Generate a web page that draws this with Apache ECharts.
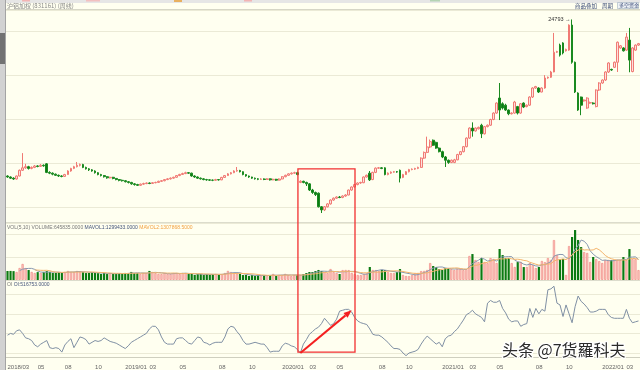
<!DOCTYPE html>
<html><head><meta charset="utf-8">
<script src="https://cdn.jsdelivr.net/npm/echarts@6/dist/echarts.min.js"></script>
<style>html,body{margin:0;padding:0;background:#fffff0;}#c{width:640px;height:370px;}</style>
</head><body><div id="c"></div>
<script>
// ---- data (weekly bars, 沪铝加权) ----
const opens = [
13850,13780,13700,13640,13850,14250,14420,14500,14380,14450,
14550,14520,14600,14700,14100,14050,13980,13900,13850,13820,
13950,14200,14380,14500,14600,14650,14450,14350,14280,14200,
14080,13950,13880,13800,13720,13760,13680,13600,13550,13520,
13450,13400,13300,13250,13200,13280,13320,13360,13330,13380,
13400,13480,13520,13600,13650,13700,13760,13880,13960,14020,
14080,14050,13850,13780,13700,13650,13600,13580,13560,13550,
13600,13580,13750,13880,14000,14080,14200,14230,14150,13950,
13850,13780,13700,13650,13620,13640,13610,13650,13580,13620,
13560,13640,13800,13900,14000,14050,14080,13400,13480,13400,
13300,12870,12700,12650,11700,11480,11700,11900,12170,12300,
12380,12350,12450,12520,12870,13080,13250,13360,13380,13780,
14050,13600,14100,14400,14420,14420,13950,14050,14120,14150,
14250,13750,13950,14150,14300,14330,14380,14450,15100,15500,
15880,16350,16200,15800,15550,15180,14950,14800,14800,14980,
15350,15550,15900,16500,17200,17000,17150,17400,16800,17300,
17400,17800,18250,19300,18900,18800,18460,18200,18250,18700,
18250,18950,18700,18800,19370,20000,20000,19720,20000,20700,
20750,21120,22500,23000,23150,22600,22650,24400,21800,19650,
19370,19100,18600,18950,18950,18700,19860,20350,20560,21120,
21300,21450,21800,22800,22800,22650,23350,21150,22650,23000];
const closes = [
13780,13700,13640,13850,14250,14420,14500,14380,14450,14550,
14520,14600,14560,14100,14050,13980,13900,13850,13820,13950,
14200,14380,14500,14600,14650,14450,14350,14280,14200,14080,
13950,13880,13800,13720,13760,13680,13600,13550,13520,13450,
13400,13300,13250,13200,13280,13320,13360,13330,13380,13400,
13480,13520,13600,13650,13700,13760,13880,13960,14020,14080,
14050,13850,13780,13700,13650,13600,13580,13560,13550,13600,
13580,13750,13880,14000,14080,14200,14230,14150,13950,13850,
13780,13700,13650,13620,13640,13610,13650,13580,13620,13560,
13640,13800,13900,14000,14050,14080,13950,13480,13400,13300,
12870,12700,12550,11700,11480,11700,11900,12170,12300,12380,
12350,12450,12520,12870,13080,13250,13360,13400,13780,13900,
13580,14100,14400,14420,14380,13950,14050,14120,14150,14130,
13700,13950,14150,14300,14330,14380,14450,15100,15500,15880,
16250,16000,15800,15550,15180,14950,14800,14950,14980,15350,
15550,15900,16500,17200,17000,17200,17250,16800,17300,17400,
17800,18250,18950,18460,18600,18460,18200,18250,19020,18250,
18900,18670,18800,19370,20000,20100,19720,20000,20700,20750,
21120,22500,22550,22300,22450,22700,24400,21800,19720,18460,
18800,19160,19300,18980,18900,19860,20350,20560,21120,21750,
21260,21800,23200,22950,22600,23560,21950,22800,23000,23100];
const lows = [
13720,13650,13580,13600,13820,14200,14350,14300,14320,14400,
14460,14480,14500,14050,13980,13900,13850,13780,13760,13800,
13920,14150,14330,14450,14520,14400,14300,14200,14150,14020,
13900,13820,13740,13660,13680,13620,13550,13480,13460,13400,
13330,13240,13180,13150,13160,13230,13280,13280,13300,13340,
13370,13440,13480,13560,13600,13660,13730,13840,13920,13980,
14000,13800,13720,13650,13600,13550,13520,13500,13490,13520,
13530,13560,13720,13850,13960,14050,14150,14100,13900,13800,
13720,13650,13600,13560,13580,13560,13580,13530,13550,13510,
13530,13620,13760,13860,13950,14000,13900,13350,13340,13150,
12800,12600,12450,11650,11264,11400,11650,11850,12120,12250,
12300,12300,12400,12500,12820,13050,13200,13300,13350,13740,
13500,13560,14050,14350,14330,13900,13900,14000,14080,14080,
13400,13700,13920,14100,14250,14280,14330,14420,15050,15450,
15800,15950,15750,15500,15100,14480,14700,14750,14750,14950,
15300,15500,15850,16450,16600,16950,17100,16500,16750,17250,
17350,17750,18200,17760,18500,18400,18100,18150,18200,18150,
18200,18600,18650,18750,19300,19950,19650,19700,19950,20650,
20700,21100,22450,22200,22350,22550,22600,21700,19650,18400,
18100,19050,18550,18900,18850,18650,19800,20300,20500,21050,
21200,21400,21120,22750,22550,22600,21100,21100,22600,22950];
const highs = [
13900,13820,13760,13880,14300,15450,14700,14560,14520,14620,
14600,14680,14660,14750,14180,14100,14020,13950,13900,14000,
14250,14420,14560,14830,14720,14700,14500,14400,14330,14250,
14120,14000,13920,13840,13800,13790,13700,13640,13600,13560,
13500,13440,13350,13300,13320,13380,13400,13400,13420,13450,
13520,13570,13640,13700,13750,13800,13920,14000,14080,14150,
14120,14080,13900,13820,13740,13700,13650,13620,13600,13650,
13640,13790,13920,14050,14130,14250,14480,14280,14180,13980,
13880,13800,13740,13700,13690,13680,13700,13680,13660,13650,
13680,13840,13940,14040,14100,14150,14150,13550,13520,13450,
13350,12950,12760,12700,11750,11750,11950,12220,12350,12430,
12450,12500,12580,12900,13120,13300,13400,13450,13820,13950,
14200,14150,14450,14480,14470,14460,14100,14170,14200,14200,
14300,14000,14200,14350,14380,14420,14500,15150,15560,16600,
16400,16400,16250,15850,15620,15250,15000,15000,15050,15400,
15600,15950,16550,17250,17600,17250,17300,17500,17350,17450,
17850,18300,19000,20350,19000,18900,18500,18300,19100,18750,
18950,19000,18850,19420,20050,20150,20050,20050,20900,20800,
21200,23850,22600,23100,23200,22750,24450,24793,21850,19700,
19400,19200,19350,19050,19000,19900,20400,20600,21170,21800,
21350,21850,23250,23000,22850,23850,24200,22850,23050,23150];
const volumes = [
588000,592000,579000,524000,781000,1046000,779000,650000,528000,459000,
515000,462000,530000,584000,519000,455000,463000,521000,457000,526000,
589000,518000,523000,590000,527000,516000,452000,461000,520000,458000,
449000,393000,455000,388000,451000,395000,389000,457000,392000,460000,
453000,525000,458000,451000,396000,456000,462000,591000,522000,455000,
394000,387000,454000,392000,398000,459000,451000,395000,457000,450000,
389000,396000,327000,391000,398000,324000,393000,329000,386000,395000,
331000,388000,456000,593000,519000,452000,394000,390000,322000,329000,
262000,325000,259000,330000,264000,327000,258000,323000,394000,261000,
328000,322000,397000,326000,263000,329000,331000,
327000,389000,458000,523000,518000,584000,655000,589000,522000,454000,
715000,519000,461000,392000,649000,656000,647000,459000,393000,328000,
324000,395000,452000,849000,653000,648000,588000,657000,651000,524000,
457000,452000,519000,714000,329000,263000,258000,326000,455000,461000,
583000,592000,655000,1105000,915000,846000,719000,651000,785000,779000,
712000,654000,721000,716000,648000,713000,1567000,1693000,1306000,1171000,
1437000,1176000,1104000,1431000,1372000,1112000,2023000,1628000,1436000,1429000,
1107000,851000,1169000,1178000,844000,853000,1111000,975000,783000,849000,
1241000,1168000,1432000,1307000,2604000,1633000,1366000,1372000,331000,2213000,
2806000,3259000,2611000,2149000,1823000,1762000,1174000,1502000,1365000,1236000,
1112000,1301000,1309000,1296000,1305000,1311000,1298000,1497000,1302000,2019000,
1371000,1364000,645835];
const openInterest = [
495500,500000,497700,506800,509100,500000,488600,486400,481800,470500,
465900,472700,477300,481800,463600,461400,463600,461400,452300,470500,
479500,486400,463600,477300,490900,488600,484100,472700,477300,481800,
479500,481800,488600,484100,479500,477300,475000,470500,465900,461400,
468200,477300,481800,486400,490900,495500,500000,511400,518200,518200,
509100,490900,477300,472700,472700,472700,486400,488600,488600,481800,
475000,472700,481800,490900,488600,477300,475000,470500,475000,477300,
477300,477300,490900,511400,518200,515900,504600,495500,481800,472700,
472700,475000,477300,475000,472700,472700,463600,452300,454500,454500,
454500,468200,475000,472700,468200,465900,459100,450000,472700,484100,
497700,504600,511400,515900,525000,538600,529600,520500,525000,536400,
556800,559100,561400,561400,554600,540900,531800,527300,525000,522700,
511400,497700,495500,495500,490900,484100,477300,468200,461400,461400,
459100,450000,443200,450000,452300,454500,459100,472700,484100,493200,
486400,479500,472700,477300,465900,486400,493200,495500,504600,511400,
522700,534100,547700,552300,559100,550000,545500,540900,529600,577300,
584100,579600,579600,584100,563700,552300,536400,529600,531800,531800,
518200,522700,525000,563700,540900,563700,550000,561400,556800,611400,
613700,620500,577300,572700,543200,572700,550000,527300,568200,595500,
581800,575000,565900,554600,554600,556800,561400,561400,561400,547700,
540900,538600,538600,538600,538600,561400,538600,527300,529600,531800];
const tickIdx  = [0,10,19,29,39,47,57,70,80,91,100,109,123,132,144,153,162,175,185,197,205];
const tickText = ['2018/03','05','08','10','2019/01','03','05','08','10','2020/01','03','05','08','10','2021/01','03','05','08','10','2022/01','03'];
const headerTitle = '沪铝加权 (831161) (周线)';
const volTitle = ['VOL(5,10) VOLUME:645835.0000 ', 'MAVOL1:1299433.0000 ', 'MAVOL2:1307868.5000'];
const oiTitle = ['OI ', 'OI:516753.0000'];
const watermark = '头条 @7货羅科夫';
// annotation (red box + arrow) in data space
const boxBars = [96, 115];
const boxTopPrice = 14350;
const boxBottomOI = 452300;
const arrowFrom = [97, 450000];
const arrowTo = [114, 559100];

// ---- build ----
const n = closes.length;
const cats = closes.map((_, i) => String(i));
const kData = closes.map((c, i) => [opens[i], c, lows[i], highs[i]]);
const upFill = '#fde0dc', upLine = '#f07a74', dnFill = '#0b7a12';
const volData = volumes.map((v, i) => ({
  value: v,
  itemStyle: closes[i] >= opens[i]
    ? {color: '#fcccc6', borderColor: '#f08a84', borderWidth: 0.7}
    : {color: dnFill, borderColor: dnFill, borderWidth: 0}
}));
function movingAvg(p) {
  return volumes.map((_, i) => {
    if (i < p - 1) return '-';
    let s = 0; for (let k = i - p + 1; k <= i; k++) s += volumes[k];
    return s / p;
  });
}
const hiIdx = highs.indexOf(Math.max(...highs));
const loIdx = lows.indexOf(Math.min(...lows));
const tickMap = {}; tickIdx.forEach((t, k) => { tickMap[t] = tickText[k]; });

const gridLine = {show: true, lineStyle: {color: '#ebead6', width: 1}};
const hiddenX = (g) => ({type: 'category', gridIndex: g, data: cats, boundaryGap: true,
  axisLine: {show: false}, axisTick: {show: false}, axisLabel: {show: false}, splitLine: {show: false}});
const yBase = (g, min, max, interval) => ({type: 'value', gridIndex: g, min, max, interval, position: 'right',
  axisLine: {show: false}, axisTick: {show: false}, axisLabel: {show: false}, splitLine: gridLine});

const chart = echarts.init(document.getElementById('c'));
chart.setOption({
  animation: false,
  backgroundColor: '#fffff0',
  grid: [
    {left: 6, right: 0, top: 10, height: 197},
    {left: 6, right: 0, top: 223, height: 57},
    {left: 6, right: 0, top: 280, height: 82}
  ],
  xAxis: [hiddenX(0), hiddenX(1), Object.assign(hiddenX(2), {
    offset: 4,
    axisLine: {show: true, onZero: false, lineStyle: {color: '#cfcfbf', width: 1}},
    axisLabel: {show: true, interval: (idx) => idx in tickMap, formatter: (v, idx) => tickMap[idx] || '',
      fontSize: 6, color: '#666', align: 'left', margin: 7, fontFamily: 'Liberation Sans'}
  })],
  yAxis: [
    yBase(0, 11683, 25453, 3077),
    yBase(1, 0, 3717391, 1500000),
    yBase(2, 450000, 636364, 50000)
  ],
  series: [
    {type: 'candlestick', xAxisIndex: 0, yAxisIndex: 0, data: kData, barWidth: '75%', clip: false,
      itemStyle: {color: upFill, borderColor: upLine, color0: dnFill, borderColor0: '#1a8a20', borderWidth: 1},
      markPoint: {symbol: 'circle', symbolSize: 1, itemStyle: {color: 'rgba(0,0,0,0)'},
        label: {fontSize: 5.5, color: '#333', fontFamily: 'Liberation Sans'},
        data: [
          {coord: [hiIdx, highs[hiIdx]], value: highs[hiIdx], label: {position: 'left', distance: 1, formatter: '{c} →'}},
          {coord: [loIdx, lows[loIdx]], value: lows[loIdx], label: {position: 'bottom', distance: 0, offset: [-8, 0], formatter: '{c}'}}
        ]}
    },
    {type: 'bar', xAxisIndex: 1, yAxisIndex: 1, data: volData, barWidth: '72%'},
    {type: 'line', xAxisIndex: 1, yAxisIndex: 1, data: movingAvg(5), symbol: 'none',
      lineStyle: {color: '#8898b0', width: 1}},
    {type: 'line', xAxisIndex: 1, yAxisIndex: 1, data: movingAvg(10), symbol: 'none',
      lineStyle: {color: '#f4b46c', width: 1}},
    {type: 'line', xAxisIndex: 2, yAxisIndex: 2, data: openInterest, symbol: 'none', clip: false,
      lineStyle: {color: '#8090a4', width: 1}}
  ]
});

// ---- chrome + annotation ----
const p0 = (x, y) => chart.convertToPixel({gridIndex: 0}, [x, y]);
const p2 = (x, y) => chart.convertToPixel({gridIndex: 2}, [x, y]);
const bl = p0(boxBars[0], boxTopPrice), br = p0(boxBars[1], boxTopPrice);
const bb = p2(boxBars[0], boxBottomOI);
const boxL = bl[0] + 0.6, boxR = br[0] + 0.3, boxT = bl[1], boxB = bb[1];
const a0 = p2(arrowFrom[0], arrowFrom[1]), a1 = p2(arrowTo[0], arrowTo[1]);
const dx = a1[0] - a0[0], dy = a1[1] - a0[1], len = Math.hypot(dx, dy);
const ux = dx / len, uy = dy / len, hl = 8, hw = 3.2;
const baseX = a1[0] - ux * hl, baseY = a1[1] - uy * hl;
const cjk = '"Noto Sans CJK SC", sans-serif';

chart.setOption({graphic: [
  {type: 'rect', shape: {x: 0, y: 0, width: 640, height: 3}, style: {fill: '#e6e6e6'}, z: 50},
  {type: 'rect', shape: {x: 22, y: 0, width: 8, height: 1.5}, style: {fill: '#f3b4b4'}, z: 51},
  {type: 'rect', shape: {x: 86, y: 0, width: 14, height: 1.5}, style: {fill: '#f3c0c0'}, z: 51},
  {type: 'rect', shape: {x: 174, y: 0, width: 8, height: 2}, style: {fill: '#e8b060'}, z: 51},
  {type: 'rect', shape: {x: 244, y: 0, width: 8, height: 1.5}, style: {fill: '#f3b4b4'}, z: 51},
  {type: 'rect', shape: {x: 430, y: 0, width: 10, height: 1.5}, style: {fill: '#b4d4b4'}, z: 51},
  {type: 'line', shape: {x1: 0, y1: 9.5, x2: 640, y2: 9.5}, style: {stroke: '#d6d6c6', lineWidth: 1}, z: 50},
  {type: 'text', x: 7, y: 6, style: {text: headerTitle, fontSize: 6, fontFamily: cjk, fill: '#888', verticalAlign: 'middle'}, z: 50},
  {type: 'text', x: 575, y: 5.5, style: {text: '商品叠加', fontSize: 5.5, fontFamily: cjk, fill: '#3c4c78', verticalAlign: 'middle'}, z: 50},
  {type: 'text', x: 602, y: 5.5, style: {text: '周期', fontSize: 5.5, fontFamily: cjk, fill: '#3c4c78', verticalAlign: 'middle'}, z: 50},
  {type: 'rect', shape: {x: 617.5, y: 2.5, width: 21, height: 6}, style: {fill: '#eef2f6', stroke: '#a0b0c0', lineWidth: 0.6}, z: 50},
  {type: 'text', x: 619, y: 5.5, style: {text: '多空资金', fontSize: 5, fontFamily: cjk, fill: '#3c4c78', verticalAlign: 'middle'}, z: 51},
  {type: 'rect', shape: {x: 0, y: 0, width: 6, height: 370}, style: {fill: '#d2d2d2'}, z: 52},
  {type: 'rect', shape: {x: 0, y: 33, width: 5, height: 31}, style: {fill: '#727272'}, z: 53},
  {type: 'line', shape: {x1: 5.5, y1: 0, x2: 5.5, y2: 370}, style: {stroke: '#a4a4a4', lineWidth: 1}, z: 53},
  {type: 'line', shape: {x1: 6, y1: 222.5, x2: 640, y2: 222.5}, style: {stroke: '#dcdccc', lineWidth: 1}, z: 40},
  {type: 'line', shape: {x1: 6, y1: 280.5, x2: 640, y2: 280.5}, style: {stroke: '#dcdccc', lineWidth: 1}, z: 40},
  {type: 'text', x: 7, y: 227.5, style: {
    text: '{a|' + volTitle[0] + '}{b|' + volTitle[1] + '}{c|' + volTitle[2] + '}',
    fontSize: 5, fontFamily: 'Liberation Sans', verticalAlign: 'middle',
    rich: {a: {fill: '#777', fontSize: 5}, b: {fill: '#44547a', fontSize: 5}, c: {fill: '#f2a040', fontSize: 5}}}, z: 50},
  {type: 'text', x: 7, y: 285, style: {
    text: '{a|' + oiTitle[0] + '}{b|' + oiTitle[1] + '}',
    fontSize: 5, fontFamily: 'Liberation Sans', verticalAlign: 'middle',
    rich: {a: {fill: '#777', fontSize: 5}, b: {fill: '#44547a', fontSize: 5}}}, z: 50},
  {type: 'rect', shape: {x: boxL, y: boxT, width: boxR - boxL, height: boxB - boxT},
    style: {fill: null, stroke: '#f23030', lineWidth: 1.3}, z: 60},
  {type: 'line', shape: {x1: a0[0], y1: a0[1], x2: baseX, y2: baseY},
    style: {stroke: '#f42020', lineWidth: 2}, z: 60},
  {type: 'polygon', shape: {points: [[a1[0], a1[1]], [baseX - uy * hw, baseY + ux * hw], [baseX + uy * hw, baseY - ux * hw]]},
    style: {fill: '#f42020'}, z: 60},
  {type: 'text', x: 502, y: 350, style: {text: watermark, fontSize: 16, fontFamily: cjk,
    fill: '#2b2b2b', stroke: '#ffffff', lineWidth: 2.5, verticalAlign: 'middle'}, z: 70}
]});
</script>
</body></html>
